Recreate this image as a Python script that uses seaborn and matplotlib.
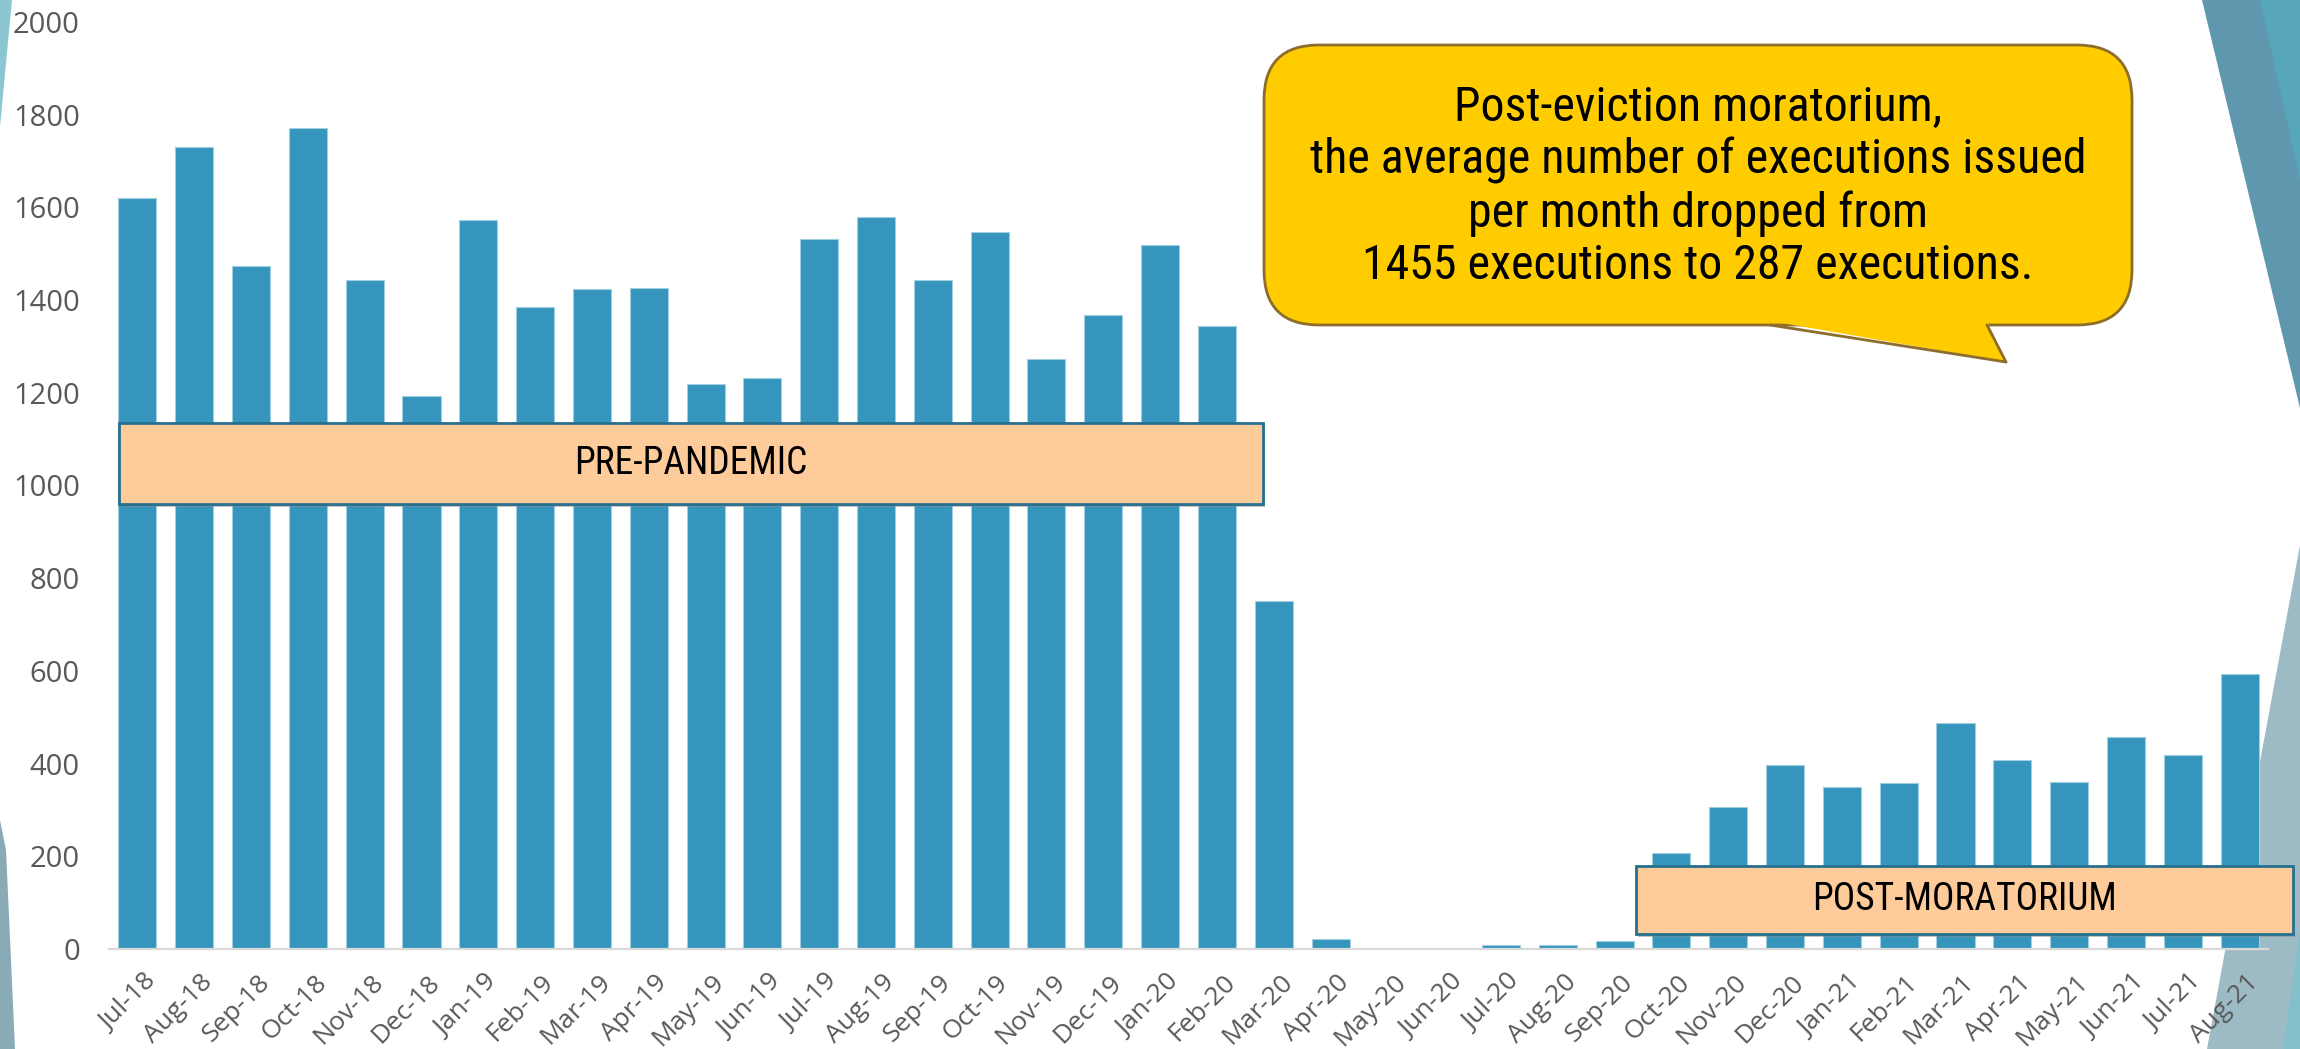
import matplotlib
matplotlib.use('Agg')
import matplotlib.pyplot as plt
import seaborn as sns
from matplotlib.patches import FancyBboxPatch, Polygon, Rectangle
from matplotlib.lines import Line2D
from matplotlib.transforms import IdentityTransform, ScaledTranslation

#------Data

months = ['Jul-18', 'Aug-18', 'Sep-18', 'Oct-18', 'Nov-18', 'Dec-18',
          'Jan-19', 'Feb-19', 'Mar-19', 'Apr-19', 'May-19', 'Jun-19',
          'Jul-19', 'Aug-19', 'Sep-19', 'Oct-19', 'Nov-19', 'Dec-19',
          'Jan-20', 'Feb-20', 'Mar-20', 'Apr-20', 'May-20', 'Jun-20',
          'Jul-20', 'Aug-20', 'Sep-20', 'Oct-20', 'Nov-20', 'Dec-20',
          'Jan-21', 'Feb-21', 'Mar-21', 'Apr-21', 'May-21', 'Jun-21',
          'Jul-21', 'Aug-21']
executions = [1620, 1730, 1474, 1771, 1443, 1193,
              1573, 1386, 1424, 1427, 1218, 1231,
              1532, 1579, 1443, 1548, 1272, 1367,
              1519, 1345, 750, 22, 0, 3,
              9, 9, 17, 208, 306, 398,
              349, 358, 488, 408, 360, 458,
              419, 594]
y_ticks = [0, 200, 400, 600, 800, 1000, 1200, 1400, 1600, 1800, 2000]

pre_label = 'PRE-PANDEMIC'
post_label = 'POST-MORATORIUM'
callout_text = ('Post-eviction moratorium,\n'
                'the average number of executions issued\n'
                'per month dropped from\n'
                '1455 executions to 287 executions.')

#-------Settings

sns.set_theme(style='white')
plt.rcParams['font.family'] = ['Open Sans', 'DejaVu Sans']
narrow = ['Roboto Condensed', 'DejaVu Sans']

W, H = 2300, 1049
fig = plt.figure(figsize=(W / 100, H / 100), dpi=100)
fig.patch.set_facecolor('white')


def disp(x, y):
    # picture pixels (y down) -> display pixels (y up)
    return (x, H - y)


#------Slide decorations (background theme shapes)

deco = [
    ([(0, 0), (12, 0), (0, 127)], '#8cc7d1'),
    ([(0, 820), (6, 850), (15, 1049), (0, 1049)], '#88abb5'),
    ([(2202, 0), (2300, 0), (2300, 408)], '#5f98ae'),
    ([(2260, 0), (2300, 0), (2300, 180)], '#57a6ba'),
    ([(2300, 545), (2207, 1049), (2300, 1049)], '#9dbbc5'),
    ([(2300, 930), (2283, 1049), (2300, 1049)], '#84c0cb'),
]
for pts, col in deco:
    fig.add_artist(Polygon([disp(*p) for p in pts], closed=True, fc=col, ec='none',
                           transform=IdentityTransform(), zorder=-5))

#------Chart

ax = fig.add_axes([109 / W, 1 - 949 / H, 2159 / W, 927 / H])
ax.patch.set_alpha(0)
sns.barplot(x=months, y=executions, color='#3595bc', saturation=1, width=0.67,
            edgecolor='#9fcfe0', linewidth=0.8, ax=ax)
ax.set_xlim(-0.5, len(months) - 0.5)
ax.set_ylim(0, 2000)
ax.set_yticks(y_ticks)
ax.set_yticklabels([str(v) for v in y_ticks])
ax.set_xlabel('')
ax.set_ylabel('')
for s in ['left', 'top', 'right']:
    ax.spines[s].set_visible(False)
ax.spines['bottom'].set_color('#d9d9d9')
ax.spines['bottom'].set_linewidth(1.6)
ax.tick_params(axis='y', length=0, pad=21, labelsize=21, labelcolor='#595959')
ax.tick_params(axis='x', length=0, pad=15, labelsize=19, labelcolor='#595959')
offset = ScaledTranslation(6 / 100, 0, fig.dpi_scale_trans)
for lbl in ax.get_xticklabels():
    lbl.set_rotation(45)
    lbl.set_ha('right')
    lbl.set_va('top')
    lbl.set_rotation_mode('anchor')
    lbl.set_transform(lbl.get_transform() + offset)

#------Period boxes

boxes = [((119, 423, 1263, 504), pre_label), ((1636, 866, 2293, 934), post_label)]
for (x0, y0, x1, y1), label in boxes:
    shadow = Rectangle(disp(x0 + 2, y1 + 3), x1 - x0, y1 - y0, fc='#8a8a8a', ec='none',
                       alpha=0.5, transform=IdentityTransform(), zorder=3)
    rect = Rectangle(disp(x0, y1), x1 - x0, y1 - y0, fc='#fecb9a', ec='#26708f',
                     lw=2, transform=IdentityTransform(), zorder=4)
    fig.add_artist(shadow)
    fig.add_artist(rect)
    fig.text((x0 + x1) / 2 / W, 1 - (y0 + y1) / 2 / H, label, ha='center', va='center',
             fontsize=27, color='black', family=narrow, zorder=5)

#------Callout

cx0, cy0, cx1, cy1 = 1264, 45, 2132, 325
bubble = FancyBboxPatch(disp(cx0, cy1), cx1 - cx0, cy1 - cy0,
                        boxstyle='round,pad=0,rounding_size=55',
                        fc='#ffcc00', ec='#8c6d2c', lw=2,
                        transform=IdentityTransform(), zorder=6)
fig.add_artist(bubble)
tail = Polygon([disp(1770, 321), disp(2006, 362), disp(1987, 321)], closed=True,
               fc='#ffcc00', ec='none', transform=IdentityTransform(), zorder=7)
fig.add_artist(tail)
for (xa, ya), (xb, yb) in [((1770, 325), (2006, 362)), ((2006, 362), (1987, 325))]:
    a, b = disp(xa, ya), disp(xb, yb)
    fig.add_artist(Line2D([a[0], b[0]], [a[1], b[1]], color='#8c6d2c', lw=2,
                          transform=IdentityTransform(), zorder=8))
fig.text((cx0 + cx1) / 2 / W, 1 - 187 / H, callout_text, ha='center', va='center',
         multialignment='center', fontsize=34.5, linespacing=1.17, color='black',
         family=narrow, zorder=9)

plt.savefig('out.png', dpi=100)
plt.close()
